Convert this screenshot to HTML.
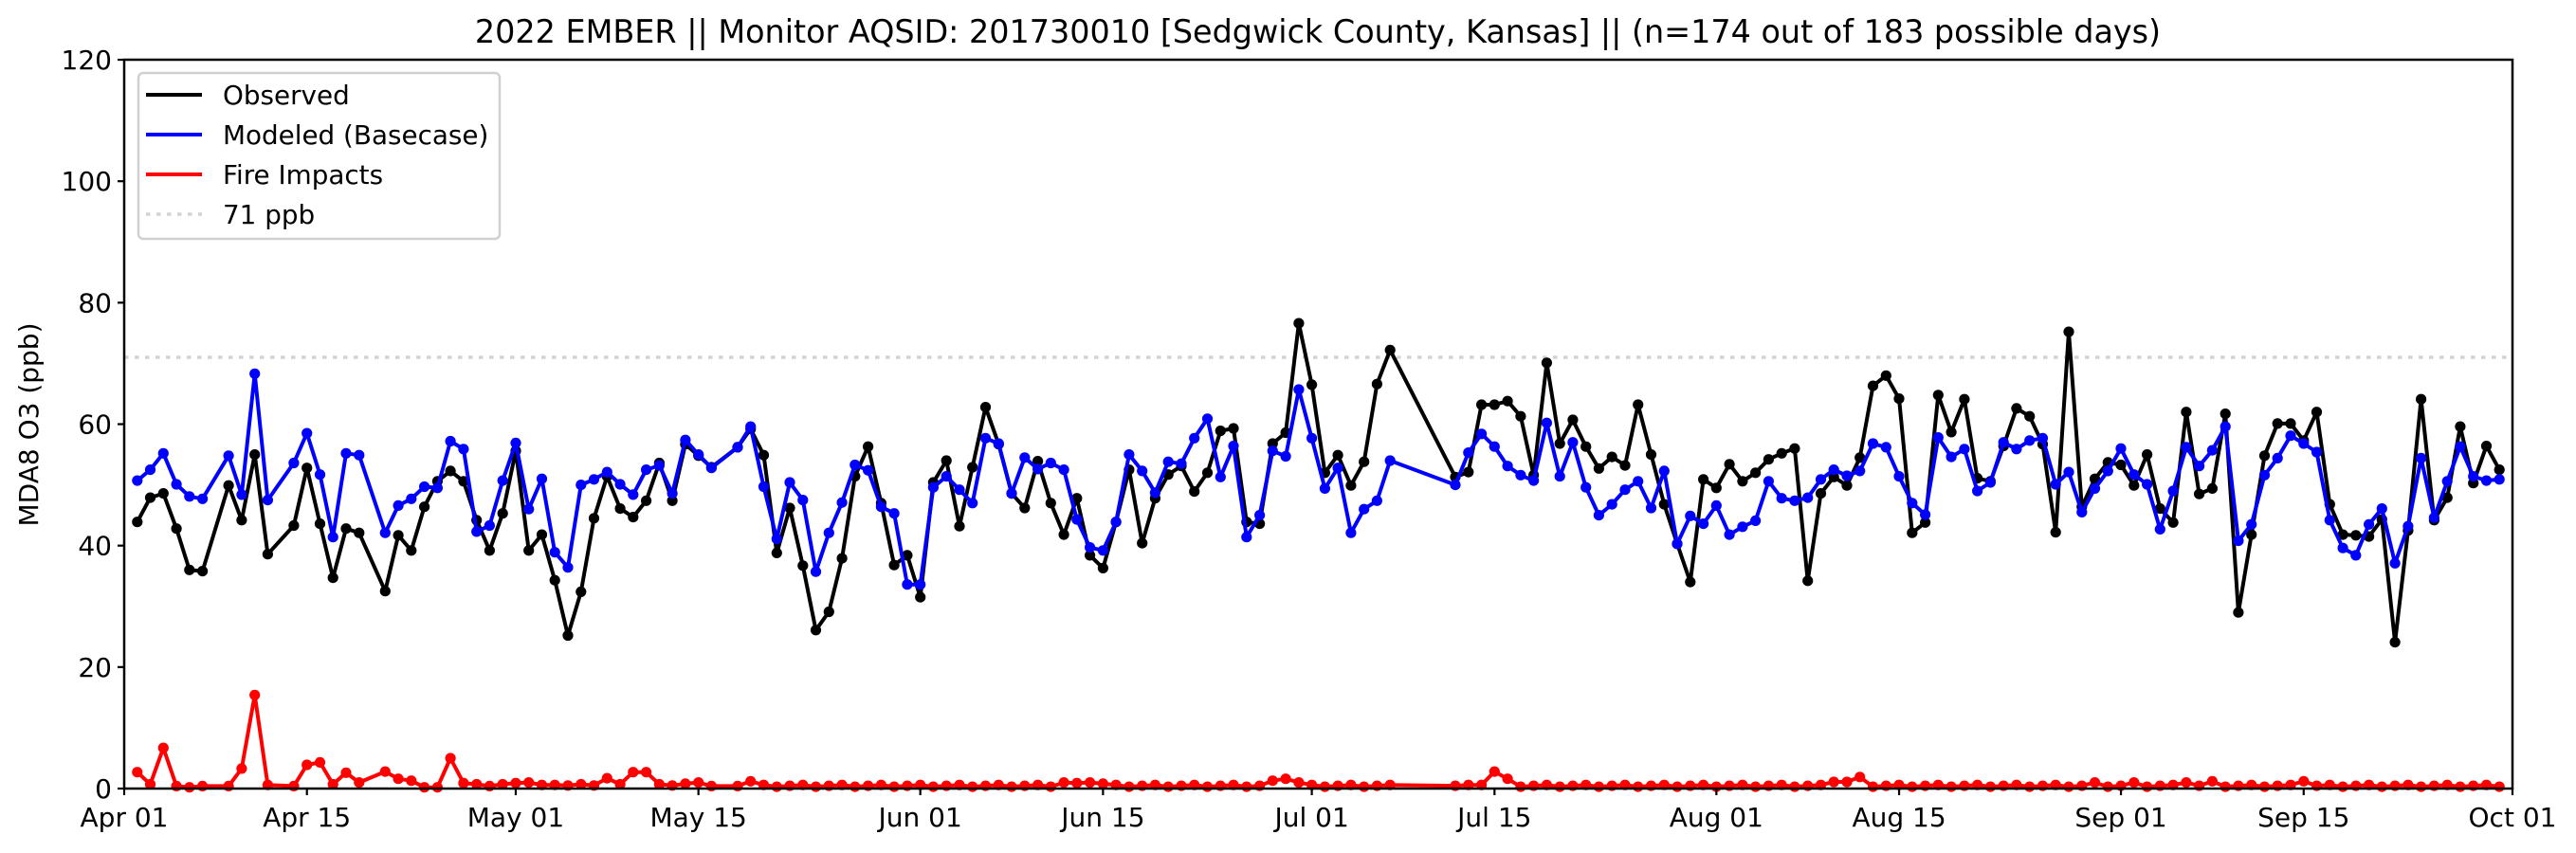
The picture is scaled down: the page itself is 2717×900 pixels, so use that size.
<!DOCTYPE html>
<html><head><meta charset="utf-8">
<style>
html,body{margin:0;padding:0;background:#fff;}
svg{display:block;font-family:"DejaVu Sans","Liberation Sans",sans-serif;}
</style></head>
<body>
<svg id="c" width="2717" height="900" xmlns="http://www.w3.org/2000/svg">
<rect width="2717" height="900" fill="#fff"/>
<text x="1390" y="45" font-size="33.4" text-anchor="middle">2022 EMBER || Monitor AQSID: 201730010 [Sedgwick County, Kansas] || (n=174 out of 183 possible days)</text>
<line x1="131" y1="377" x2="2650" y2="377" stroke="#d3d3d3" stroke-width="3.5" stroke-dasharray="4.5 6.5"/>
<g id="series"></g>
<rect x="131" y="63" width="2519" height="769" fill="none" stroke="#000" stroke-width="2.5"/>
<g id="ticks" font-size="28"></g>
<text transform="translate(40,448) rotate(-90)" font-size="28" text-anchor="middle">MDA8 O3 (ppb)</text>
<g>
<rect x="146" y="77" width="381" height="175" rx="5" fill="#fff" fill-opacity="0.8" stroke="#d0d0d0" stroke-width="2.5"/>
<line x1="154" y1="100" x2="213" y2="100" stroke="#000" stroke-width="4"/>
<line x1="154" y1="142" x2="213" y2="142" stroke="#0000ff" stroke-width="4"/>
<line x1="154" y1="184" x2="213" y2="184" stroke="#ff0000" stroke-width="4"/>
<line x1="154" y1="226" x2="213" y2="226" stroke="#d3d3d3" stroke-width="3.5" stroke-dasharray="4.5 6.5"/>
<text x="235" y="110" font-size="27.8">Observed</text>
<text x="235" y="152" font-size="27.8">Modeled (Basecase)</text>
<text x="235" y="194" font-size="27.8">Fire Impacts</text>
<text x="235" y="236" font-size="27.8">71 ppb</text>
</g>
</svg>
<script>
var N=183,X0=131,DX=2519/183,Y0=832,DY=6.408;
var missing=[0,7,12,19,46,98,99,100,101];
function mk(arr,start){var a=new Array(N).fill(null);for(var i=0;i<arr.length;i++)a[start+i]=arr[i];missing.forEach(function(m){a[m]=null});return a;}
var blk=[43.9,47.9,48.6,42.8,36.0,35.8,null,49.9,44.2,55.0,38.6,null,43.3,52.8,43.6,34.7,42.8,42.1,null,32.5,41.7,39.2,46.4,50.6,52.3,50.6,44.2,39.2,45.3,55.6,
39.2,41.8,34.3,25.2,32.4,44.5,51.4,46.1,44.7,47.4,53.6,47.4,56.7,54.8,52.9,null,56.2,59.2,54.9,38.8,46.2,36.7,26.1,29.1,37.9,51.4,56.3,47.0,36.8,38.4,31.5,
50.4,54.0,43.2,52.9,62.8,56.7,48.6,46.2,53.9,47.0,41.8,47.8,38.4,36.3,43.9,52.5,40.4,47.8,51.7,53.1,48.9,52.0,58.9,59.3,43.9,43.6,56.8,58.6,76.6,66.5,
52.0,54.9,49.9,53.8,66.6,72.2,null,null,null,null,51.3,52.1,63.2,63.2,63.8,61.3,51.6,70.1,56.8,60.7,56.3,52.7,54.6,53.2,63.2,55.0,46.8,40.3,34.0,50.9,
49.5,53.4,50.6,52.0,54.2,55.2,56.0,34.2,48.6,51.3,49.9,54.5,66.3,68.0,64.2,42.1,43.8,64.8,58.7,64.1,51.1,50.6,56.4,62.6,61.3,56.7,42.2,75.2,46.4,51.0,53.7,
53.3,49.9,55.0,46.1,43.8,62.0,48.5,49.4,61.7,29.0,41.8,54.8,60.1,60.1,57.3,62.0,46.8,41.8,41.7,41.5,44.3,24.1,42.5,64.1,44.2,47.9,59.6,50.3,56.4,52.5];
var blu=[50.7,52.5,55.2,50.1,48.1,47.7,null,54.8,48.4,68.3,47.5,null,53.6,58.5,51.7,41.4,55.2,54.9,null,42.1,46.6,47.7,49.7,49.5,57.2,55.9,42.3,43.3,50.7,56.9,
46.0,51.0,38.9,36.4,50.0,50.9,52.1,50.1,48.4,52.5,53.2,48.6,57.4,55.0,52.8,null,56.2,59.6,49.7,41.1,50.4,47.5,35.7,42.1,47.1,53.3,52.4,46.4,45.3,33.6,33.6,
49.6,51.4,49.2,47.0,57.7,56.8,48.6,54.5,52.6,53.6,52.5,44.3,39.7,39.2,43.9,55.0,52.3,48.7,53.8,53.5,57.7,60.9,51.3,56.4,41.4,45.0,55.6,54.7,65.7,57.7,
49.4,52.8,42.1,46.0,47.4,54.0,null,null,null,null,50.0,55.3,58.4,56.3,53.1,51.6,50.7,60.2,51.4,57.0,49.6,45.0,46.8,49.2,50.6,46.2,52.3,40.3,44.9,43.6,
46.6,41.8,43.1,44.1,50.6,47.8,47.4,47.9,50.9,52.5,51.5,52.3,56.8,56.2,51.4,47.0,45.1,57.8,54.6,55.9,49.0,50.4,57.0,55.9,57.3,57.7,50.1,52.1,45.5,49.4,52.3,
56.0,51.7,50.1,42.7,49.0,56.2,53.1,55.7,59.6,40.8,43.5,51.6,54.4,58.1,56.8,55.4,44.2,39.6,38.4,43.5,46.1,37.1,43.2,54.4,44.6,50.6,56.3,51.4,50.7,50.9];
var redv=[2.7,0.7,6.7,0.4,0.2,0.4,null,0.4,3.3,15.4,0.6,null,0.4,3.9,4.3,0.7,2.6,1.0,null,2.8,1.6,1.3,0.2,0.2,5.0,0.9,0.7,0.4,0.7,0.9,
1.0,0.6,0.6,0.5,0.7,0.5,1.7,0.7,2.7,2.7,0.7,0.5,0.8,1.0,0.4,null,0.4,1.2];
while(redv.length<182)redv.push(redv.length%3==0?0.6:(redv.length%3==1?0.3:0.45));
var bumps={72:1.0,73:0.9,74:1.0,75:0.8,88:1.3,89:1.6,90:1.0,105:2.8,106:1.6,104:0.6,131:1.1,132:1.1,133:1.9,151:1.0,154:1.0,158:1.0,160:1.2,167:1.2};
var R=mk(redv,1);for(var k in bumps){if(R[k]!==null)R[k]=bumps[k];}
var B=mk(blk,1),U=mk(blu,1);
function draw(a,col){var g=document.getElementById('series'),pts=[],s='';
for(var i=0;i<N;i++){if(a[i]===null||a[i]===undefined)continue;var x=X0+i*DX,y=Y0-a[i]*DY;pts.push(x.toFixed(1)+','+y.toFixed(1));s+='<circle cx="'+x.toFixed(1)+'" cy="'+y.toFixed(1)+'" r="5.6" fill="'+col+'"/>';}
g.insertAdjacentHTML('beforeend','<polyline points="'+pts.join(' ')+'" fill="none" stroke="'+col+'" stroke-width="4" stroke-linejoin="round"/>'+s);}
draw(B,'#000');draw(U,'#0000ff');draw(R,'#ff0000');
var t=document.getElementById('ticks'),h='';
for(var v=0;v<=120;v+=20){var y=Y0-v*DY;h+='<line x1="124" y1="'+y+'" x2="131" y2="'+y+'" stroke="#000" stroke-width="2.2"/><text x="118" y="'+(y+10)+'" text-anchor="end">'+v+'</text>';}
var xt=[[0,'Apr 01'],[14,'Apr 15'],[30,'May 01'],[44,'May 15'],[61,'Jun 01'],[75,'Jun 15'],[91,'Jul 01'],[105,'Jul 15'],[122,'Aug 01'],[136,'Aug 15'],[153,'Sep 01'],[167,'Sep 15'],[183,'Oct 01']];
xt.forEach(function(p){var x=X0+p[0]*DX;h+='<line x1="'+x+'" y1="832" x2="'+x+'" y2="839" stroke="#000" stroke-width="2.2"/><text x="'+x+'" y="872" text-anchor="middle">'+p[1]+'</text>';});
t.innerHTML=h;
</script>
</body></html>
